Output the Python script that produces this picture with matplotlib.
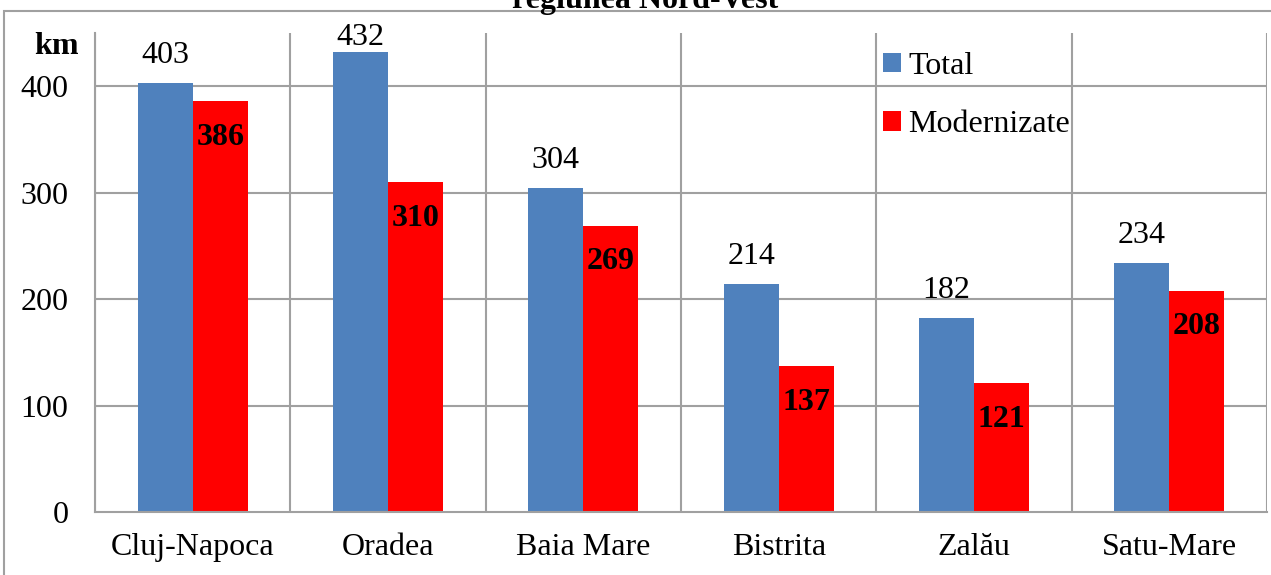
import matplotlib.pyplot as plt
from matplotlib.patches import Rectangle
import numpy as np

plt.rcParams['font.family'] = ['Liberation Serif', 'DejaVu Serif']

orase = ['Cluj-Napoca', 'Oradea', 'Baia Mare', 'Bistrita', 'Zalău', 'Satu-Mare']
total = [403, 432, 304, 214, 182, 234]
modernizate = [386, 310, 269, 137, 121, 208]
yticks = [0, 100, 200, 300, 400]

BLUE = '#4F81BD'
RED = '#FF0000'
GRID = '#A0A0A0'

W, H = 1271, 575
fig = plt.figure(figsize=(W / 100, H / 100), dpi=100)
ax = fig.add_axes([95 / W, 1 - 512 / H, (1267 - 95) / W, (512 - 33) / H])

x = np.arange(len(orase))
bw = 0.282
ax.bar(x - bw / 2, total, bw, color=BLUE, label='Total', zorder=3)
ax.bar(x + bw / 2, modernizate, bw, color=RED, label='Modernizate', zorder=3)

for xi, v in zip(x, total):
    ax.text(xi - bw / 2, min(v + 26, 446), str(v), ha='center', va='center',
            fontsize=23, zorder=4)
for xi, v in zip(x, modernizate):
    ax.text(xi + bw / 2, v - 34, str(v), ha='center', va='center',
            fontsize=23, fontweight='bold', zorder=4)

ax.set_xlim(-0.5, len(orase) - 0.5)
ax.set_ylim(0, 450)
ax.set_yticks(yticks)
ax.set_xticks(x)
ax.set_xticklabels(orase)
ax.tick_params(axis='both', length=0, labelsize=23)
ax.tick_params(axis='y', pad=19)
ax.tick_params(axis='x', pad=15)

# grid: horizontal at ticks, vertical at category borders
for yv in yticks[1:]:
    ax.axhline(yv, color=GRID, lw=1.5, zorder=1)
for b in np.arange(-0.5, len(orase), 1.0):
    ax.axvline(b, color=GRID, lw=1.5, zorder=1)
for s in ['top', 'right']:
    ax.spines[s].set_visible(False)
for s in ['left', 'bottom']:
    ax.spines[s].set_color(GRID)
    ax.spines[s].set_linewidth(1.5)
    ax.spines[s].set_zorder(5)

leg = ax.legend(loc='upper left', bbox_to_anchor=(883 / W, 1 - 52 / H),
                bbox_transform=fig.transFigure, frameon=False, fontsize=23,
                handlelength=0.55, handleheight=0.55, handletextpad=0.25,
                labelspacing=0.92, borderpad=0, borderaxespad=0)

fig.text(56 / W, 1 - 46 / H, 'km', fontsize=23, fontweight='bold',
         ha='center', va='center')
fig.text(645 / W, 1 - 8 / H, 'regiunea Nord-Vest', fontsize=23,
         fontweight='bold', ha='center', va='baseline')

fig.patches.append(Rectangle((4 / W, -0.1), 1.2, 1.1 - 11 / H,
                             transform=fig.transFigure, fill=False,
                             edgecolor=GRID, lw=1.5))

fig.savefig('out.png', dpi=100)
